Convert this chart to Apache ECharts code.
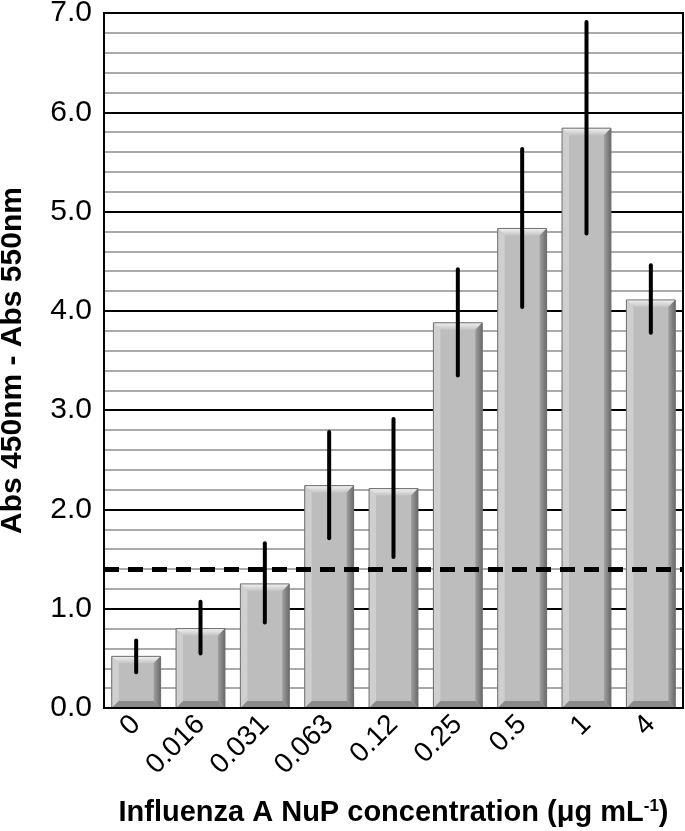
<!DOCTYPE html>
<html>
<head>
<meta charset="utf-8">
<script src="https://cdn.jsdelivr.net/npm/echarts@6/dist/echarts.min.js"></script>
<style>
  html, body { margin: 0; padding: 0; background: #fff; }
  #chart { width: 685px; height: 831px; }
</style>
</head>
<body>
<div id="chart"></div>
<script>
const concentrations = ['0', '0.016', '0.031', '0.063', '0.12', '0.25', '0.5', '1', '4']
const absMean = [0.52, 0.80, 1.25, 2.24, 2.21, 3.88, 4.83, 5.84, 4.11]
const absLow = [0.36, 0.55, 0.86, 1.71, 1.52, 3.35, 4.04, 4.78, 3.78]
const absHigh = [0.68, 1.07, 1.66, 2.78, 2.91, 4.42, 5.63, 6.91, 4.46]
const cutoff = 1.4

const FONT = '"Liberation Sans", Arial, sans-serif'

const chart = echarts.init(document.getElementById('chart'))

// bar with bevelled edges
const renderBevelBar = (params, api) => {
  const idx = api.value(0)
  const top = api.coord([idx, api.value(1)])
  const base = api.coord([idx, 0])
  const w = api.size([1, 0])[0] * 0.76
  const x0 = top[0] - w / 2
  const x1 = top[0] + w / 2
  const y0 = top[1]
  const y1 = base[1]
  const b = Math.min(7, (y1 - y0) / 2)
  return {
    type: 'group',
    children: [
      { type: 'rect', shape: { x: x0, y: y0, width: w, height: y1 - y0 },
        style: { fill: '#bdbdbd' } },
      { type: 'polygon', shape: { points: [[x0, y0], [x1, y0], [x1 - b, y0 + b], [x0 + b, y0 + b]] },
        style: { fill: new echarts.graphic.LinearGradient(0, 0, 0, 1, [
          { offset: 0, color: '#f2f2f2' }, { offset: 1, color: '#c4c4c4' }]) } },
      { type: 'polygon', shape: { points: [[x0, y0], [x0 + b, y0 + b], [x0 + b, y1 - b], [x0, y1]] },
        style: { fill: '#cfcfcf' } },
      { type: 'polygon', shape: { points: [[x1, y0], [x1 - b, y0 + b], [x1 - b, y1 - b], [x1, y1]] },
        style: { fill: new echarts.graphic.LinearGradient(0, 0, 1, 0, [
          { offset: 0, color: '#a0a0a0' }, { offset: 1, color: '#6a6a6a' }]) } },
      { type: 'polygon', shape: { points: [[x0, y1], [x0 + b, y1 - b], [x1 - b, y1 - b], [x1, y1]] },
        style: { fill: '#8a8a8a' } },
      { type: 'rect', shape: { x: x0, y: y0, width: w, height: y1 - y0 },
        style: { fill: 'none', stroke: '#6e6e6e', lineWidth: 1 } }
    ]
  }
}

const renderErrorBar = (params, api) => {
  const idx = api.value(0)
  const lo = api.coord([idx, api.value(1)])
  const hi = api.coord([idx, api.value(2)])
  return {
    type: 'line',
    shape: { x1: lo[0], y1: lo[1], x2: hi[0], y2: hi[1] },
    style: { stroke: '#000', lineWidth: 4, lineCap: 'round' }
  }
}

const option = {
  backgroundColor: '#fff',
  animation: false,
  grid: { left: 104, right: 2, top: 13, bottom: 123, containLabel: false, outerBoundsMode: 'none' },
  xAxis: {
    type: 'category',
    data: concentrations,
    axisLine: { lineStyle: { color: '#000', width: 2 } },
    axisTick: { show: false },
    axisLabel: {
      rotate: 45, color: '#000', fontFamily: FONT, fontSize: 28, margin: 12, interval: 0
    },
    name: '{b|Influenza A NuP concentration (μg mL}{s|-1}{b|)}',
    nameLocation: 'middle',
    nameGap: 90,
    nameTextStyle: {
      rich: {
        b: { fontFamily: FONT, fontSize: 29, fontWeight: 'bold', color: '#000' },
        s: { fontFamily: FONT, fontSize: 17, fontWeight: 'bold', color: '#000', verticalAlign: 'top', padding: [0, 0, 12, 0] }
      }
    },
    splitLine: { show: false }
  },
  yAxis: {
    type: 'value',
    min: 0, max: 7, interval: 1,
    axisLine: { show: true, lineStyle: { color: '#000', width: 2 } },
    axisTick: { show: false },
    axisLabel: {
      color: '#000', fontFamily: FONT, fontSize: 30, margin: 12,
      formatter: v => v.toFixed(1)
    },
    splitLine: { show: true, lineStyle: { color: '#000', width: 2 } },
    minorTick: { show: false, splitNumber: 5 },
    minorSplitLine: { show: true, lineStyle: { color: '#aaaaaa', width: 2 } },
    name: 'Abs 450nm - Abs 550nm',
    nameLocation: 'middle',
    nameGap: 76,
    nameTextStyle: { fontFamily: FONT, fontSize: 30, fontWeight: 'bold', color: '#000' }
  },
  graphic: [{
    type: 'rect',
    shape: { x: 104, y: 13, width: 579, height: 695 },
    style: { fill: 'none', stroke: '#000', lineWidth: 2 },
    z: 5
  }],
  series: [
    {
      type: 'custom',
      renderItem: renderBevelBar,
      data: absMean.map((v, i) => [i, v]),
      encode: { x: 0, y: 1 },
      z: 2
    },
    {
      type: 'custom',
      renderItem: renderErrorBar,
      data: absMean.map((v, i) => [i, absLow[i], absHigh[i]]),
      encode: { x: 0, y: [1, 2] },
      z: 4
    },
    {
      type: 'line',
      data: [],
      z: 3,
      markLine: {
        symbol: 'none',
        silent: true,
        label: { show: false },
        lineStyle: { color: '#000', width: 5, type: [15, 9] },
        data: [{ yAxis: cutoff }]
      }
    }
  ]
}

chart.setOption(option)
</script>
</body>
</html>
